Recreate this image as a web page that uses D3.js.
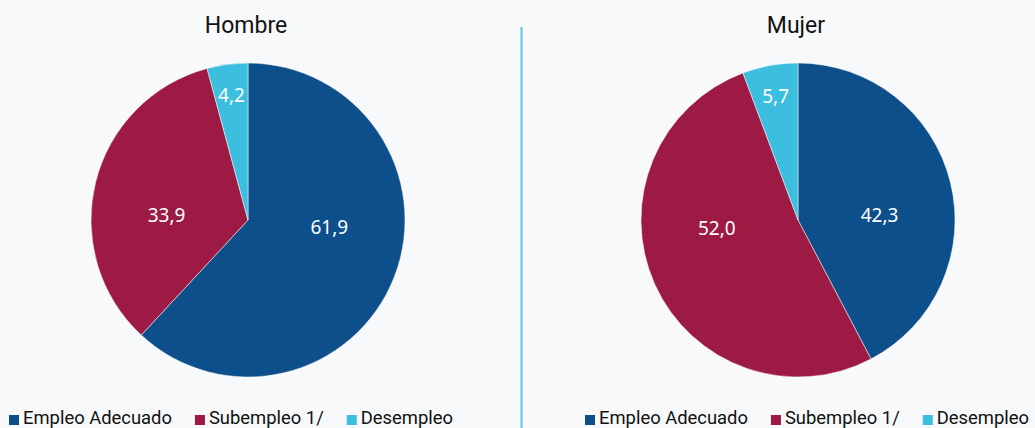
<!DOCTYPE html>
<html>
<head>
<meta charset="utf-8">
<script src="https://cdn.jsdelivr.net/npm/d3@7"></script>
<style>
  html, body { margin: 0; padding: 0; background: #f8f9fb; }
  svg { display: block; }
</style>
</head>
<body>
<svg id="chart"></svg>
<script>
// data
const categories = ["Empleo Adecuado", "Subempleo 1/", "Desempleo"];
const groups = ["Hombre", "Mujer"];
const hombreValues = [61.9, 33.9, 4.2];
const mujerValues = [42.3, 52.0, 5.7];

const width = 1035;
const height = 428;

const svg = d3.select("#chart")
    .attr("width", width)
    .attr("height", height);

svg.append("rect")
    .attr("width", width)
    .attr("height", height)
    .attr("fill", "#f8f9fb");

const color = d3.scaleOrdinal()
    .domain(categories)
    .range(["#0d4f8b", "#9c1a43", "#3cbfde"]);

const fmt = v => d3.format(".1f")(v).replace(".", ",");

const radius = 157;
const pie = d3.pie().sort(null).value(d => d.value);
const arc = d3.arc().innerRadius(0).outerRadius(radius);

// panels: pie center + legend start
const panels = [
    { name: groups[0], values: hombreValues, cx: 248, cy: 220, legendX: 9 },
    { name: groups[1], values: mujerValues, cx: 798, cy: 220, legendX: 585 }
];

// label position: small slices at centroid near rim, big ones pushed to the side
function labelPos(d) {
    const mid = (d.startAngle + d.endAngle) / 2;
    const share = (d.endAngle - d.startAngle) / (2 * Math.PI);
    if (share < 0.1) {
        const r = radius * 0.8;
        return [Math.sin(mid) * r, -Math.cos(mid) * r];
    }
    const side = Math.sin(mid) >= 0 ? 1 : -1;
    const ang = side > 0 ? Math.PI / 2 + (mid - Math.PI / 2) * 0.25
                         : 3 * Math.PI / 2 + (mid - 3 * Math.PI / 2) * 0.25;
    const r = radius * 0.52;
    return [Math.sin(ang) * r, -Math.cos(ang) * r];
}

panels.forEach(p => {
    const data = categories.map((c, i) => ({ cat: c, value: p.values[i] }));
    const g = svg.append("g").attr("transform", `translate(${p.cx},${p.cy})`);

    g.selectAll("path")
        .data(pie(data))
        .join("path")
        .attr("d", arc)
        .attr("fill", d => color(d.data.cat))
        .attr("stroke", "#ffffff")
        .attr("stroke-width", 0.5);

    g.selectAll("text.lbl")
        .data(pie(data))
        .join("text")
        .attr("class", "lbl")
        .attr("transform", d => `translate(${labelPos(d)})`)
        .attr("text-anchor", "middle")
        .attr("dy", "0.35em")
        .style("font-family", "'Noto Sans', sans-serif")
        .style("font-size", "19px")
        .attr("fill", "#ffffff")
        .text(d => fmt(d.data.value));

    svg.append("text")
        .attr("x", p.cx - 2)
        .attr("y", 33)
        .attr("text-anchor", "middle")
        .style("font-family", "Roboto, sans-serif")
        .style("font-size", "23px")
        .attr("fill", "#111111")
        .text(p.name);

    // legend
    const lg = svg.append("g").attr("transform", `translate(${p.legendX},0)`);
    let x = 0;
    categories.forEach(c => {
        lg.append("rect")
            .attr("x", x)
            .attr("y", 415)
            .attr("width", 10)
            .attr("height", 10)
            .attr("fill", color(c));
        const t = lg.append("text")
            .attr("x", x + 14)
            .attr("y", 424)
            .style("font-family", "Roboto, sans-serif")
            .style("font-size", "18.4px")
            .attr("fill", "#111111")
            .text(c);
        x += 14 + t.node().getComputedTextLength() + 23;
    });
});

// divider
svg.append("line")
    .attr("x1", 521.5)
    .attr("x2", 521.5)
    .attr("y1", 27)
    .attr("y2", height)
    .attr("stroke", "#55c6e6")
    .attr("stroke-width", 2);
</script>
</body>
</html>
